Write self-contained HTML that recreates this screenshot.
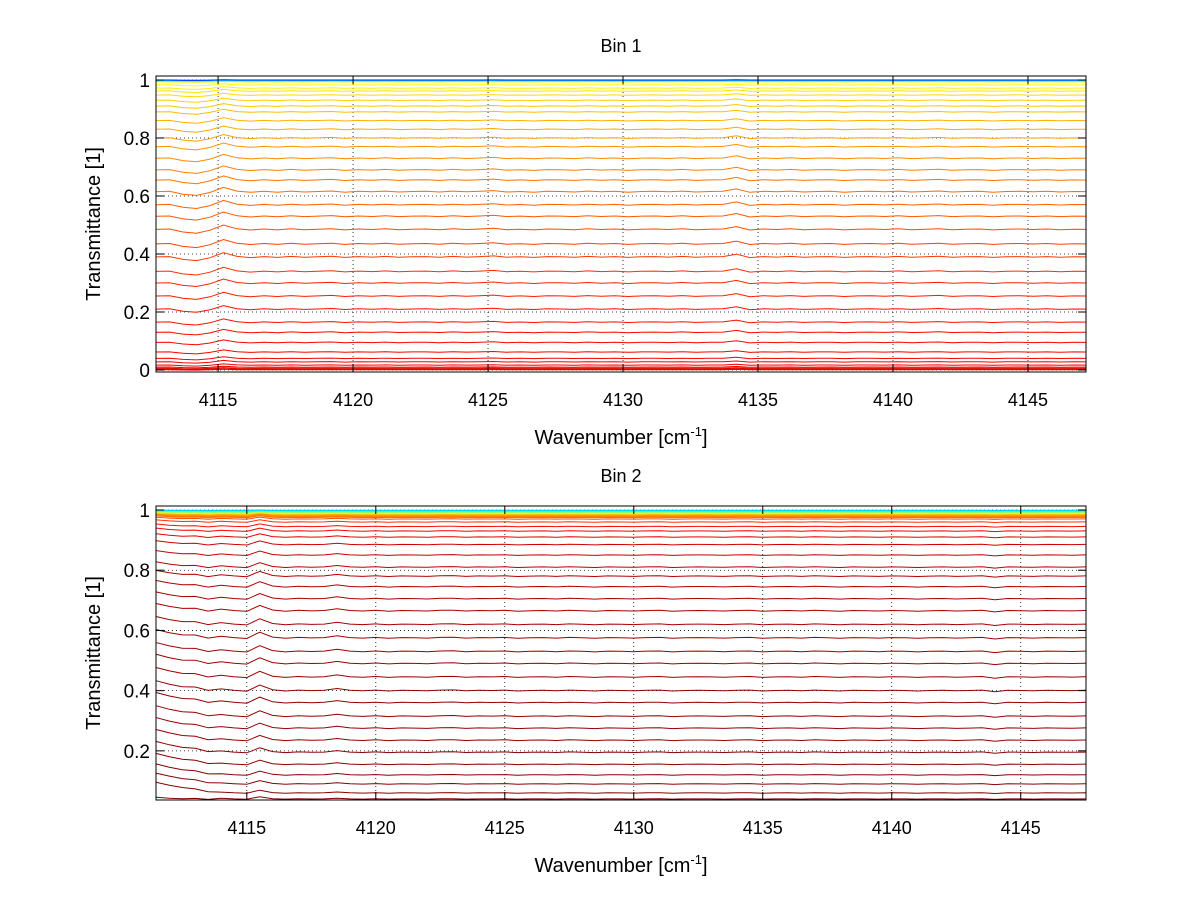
<!DOCTYPE html>
<html><head><meta charset="utf-8">
<style>
body{margin:0;background:#fff;font-family:"Liberation Sans",sans-serif;}
svg text{font-family:"Liberation Sans",sans-serif;fill:#000;}
</style></head>
<body>
<svg id="fig" width="1200" height="901" viewBox="0 0 1200 901" xmlns="http://www.w3.org/2000/svg">
<rect width="1200" height="901" fill="#fff"/>
<g id="p1"></g>
<g id="p2"></g>
</svg>
<script>
// ---- data ----
const xTicks = [4115,4120,4125,4130,4135,4140,4145];
const yTicks1 = [0,0.2,0.4,0.6,0.8,1];
const yTicks2 = [0.2,0.4,0.6,0.8,1];
const gridStart1 = 4112.7, gridStep = 0.5;
const gridStart2 = 4111.5;
const shape1 = [0,0.2,-1.5,-2.2,-0.5,2.5,0.3,-0.4,0.2,-0.3,0.3,-0.2,0.1,0.4,-0.3,0.2,-0.1,0.3,-0.2,0.1,
 0.2,-0.2,0.3,-0.1,0.2,0.6,-0.2,0.1,-0.3,0.2,0.1,-0.2,0.3,-0.1,0.2,-0.3,0.1,0.2,-0.1,0.3,
 -0.2,0.1,0.2,1.6,-0.4,0.2,-0.1,0.3,-0.2,0.1,0.2,-0.3,0.1,0.2,-0.1,0.3,-0.2,0.1,0.4,-0.2,
 0.1,0.2,-0.3,0.1,0.2,-0.1,0.2,-0.2,0.1,0];
const shape2 = [2.5,1.2,0.4,0.8,-0.5,1.0,0.2,-0.3,3.2,0.5,-0.2,0.3,0.0,0.2,1.2,0.2,-0.1,0.3,-0.2,0.2,
 0.1,-0.1,0.3,0.4,-0.1,0.2,0.1,0.3,-0.2,0.1,0.2,-0.1,0.3,0.1,-0.2,0.2,0.1,-0.1,0.2,0.3,
 -0.2,0.1,0.2,0.1,-0.1,0.2,0.3,-0.2,0.1,0.2,-0.1,0.3,0.1,-0.2,0.2,0.1,-0.1,0.2,0.1,-0.2,
 0.1,0.2,-0.1,0.1,0.3,-0.6,0.2,0.1,-0.1,0.2,0.1,0.0,0.2,-0.1];
const levels1 = [1.0,0.999,0.998,0.997,0.996,0.995,0.993,0.983,0.972,0.962,0.948,0.93,0.91,0.89,0.86,0.83,0.80,0.77,0.73,0.69,
 0.655,0.615,0.57,0.53,0.485,0.435,0.39,0.34,0.30,0.255,0.21,0.165,0.13,0.095,0.062,0.04,0.028,0.017,0.01,0.006,0.003,0.001];
const levels2 = [0.999,0.997,0.995,0.993,0.991,0.989,0.987,0.985,0.983,0.981,0.979,0.977,0.975,0.97,0.96,0.945,0.93,0.91,0.885,0.85,
 0.81,0.78,0.745,0.705,0.665,0.62,0.575,0.53,0.49,0.445,0.40,0.36,0.315,0.275,0.235,0.195,0.155,0.12,0.09,0.06,0.04];
const cmap1 = [0.15,0.3,0.38,0.45,0.52,0.57,0.6,0.62,0.64,0.65,0.66,0.67,0.68,0.69,0.7,0.71,0.72,0.73,0.74,0.75,
 0.76,0.77,0.78,0.79,0.8,0.81,0.82,0.83,0.84,0.85,0.86,0.86,0.87,0.87,0.88,0.88,0.89,0.89,0.9,0.9,0.9,0.9];
const cmap2 = [0.32,0.38,0.44,0.5,0.56,0.62,0.66,0.7,0.72,0.74,0.75,0.76,0.77,0.8,0.83,0.86,0.88,0.9,0.92,0.93,
 0.94,0.95,0.95,0.96,0.96,0.96,0.97,0.97,0.97,0.97,0.98,0.98,0.98,0.98,0.98,0.99,0.99,0.99,0.99,0.99,1.0];

function jet(t){
  const c=v=>Math.round(255*Math.max(0,Math.min(1,v)));
  return `rgb(${c(1.5-Math.abs(4*t-3))},${c(1.5-Math.abs(4*t-2))},${c(1.5-Math.abs(4*t-1))})`;
}
const NS="http://www.w3.org/2000/svg";
function mk(tag,attrs,parent){const e=document.createElementNS(NS,tag);for(const k in attrs)e.setAttribute(k,attrs[k]);parent.appendChild(e);return e;}

function drawPanel(g, box, xd, yd, yTicks, levels, cmap, shape, gStart, amp, title, tiltLeft){
  const sx=v=>box.x+(v-xd[0])/(xd[1]-xd[0])*box.w;
  const sy=v=>box.y+box.h-(v-yd[0])/(yd[1]-yd[0])*box.h;
  const clip=mk('clipPath',{id:'c'+title.replace(' ','')},g);
  mk('rect',{x:box.x,y:box.y,width:box.w,height:box.h},clip);
  xTicks.forEach(t=>{const l=mk('line',{x1:sx(t),x2:sx(t),y1:box.y,y2:box.y+box.h,stroke:'#000','stroke-width':0.8,'stroke-dasharray':'1,3'},g);
    
    });
  yTicks.forEach(t=>{const l=mk('line',{x1:box.x,x2:box.x+box.w,y1:sy(t),y2:sy(t),stroke:'#000','stroke-width':0.8,'stroke-dasharray':'1,3'},g);
    
    });
  const cg=mk('g',{'clip-path':`url(#c${title.replace(' ','')})`},g);
  for(let k=levels.length-1;k>=0;k--){
    const L=levels[k];
    const a=amp*Math.max(0.05,Math.sqrt(L*(1-L)))*(L>0.99?0.6:1);
    let pts=[];
    shape.forEach((s,i)=>{
      const x=gStart+i*gridStep;
      let v=L+s*a;
      if(tiltLeft){const d=Math.max(0,4114-x);v+=d*0.012*(1-L)*(L>0.05?1:0);}
      pts.push(sx(x).toFixed(1)+','+sy(v).toFixed(1));
    });
    const p=mk('polyline',{points:pts.join(' '),fill:'none',stroke:jet(cmap[k]),'stroke-width':1},cg);
    
    
  }
  const fr=mk('rect',{x:box.x,y:box.y,width:box.w,height:box.h,fill:'none',stroke:'#000','stroke-width':1},g);
  
  
  xTicks.forEach(t=>{
    mk('line',{x1:sx(t),x2:sx(t),y1:box.y+box.h,y2:box.y+box.h-8,stroke:'#000'},g);
    mk('line',{x1:sx(t),x2:sx(t),y1:box.y,y2:box.y+8,stroke:'#000'},g);
    const tx=mk('text',{x:sx(t),y:box.y+box.h+34,'font-size':18,'text-anchor':'middle'},g);tx.textContent=t;
    
    
  });
  yTicks.forEach(t=>{
    mk('line',{x1:box.x,x2:box.x+8,y1:sy(t),y2:sy(t),stroke:'#000'},g);
    mk('line',{x1:box.x+box.w,x2:box.x+box.w-8,y1:sy(t),y2:sy(t),stroke:'#000'},g);
    const tx=mk('text',{x:box.x-6,y:sy(t)+7,'font-size':19,'text-anchor':'end'},g);tx.textContent=String(t);
    
    
  });
  const ti=mk('text',{x:box.x+box.w/2,y:box.y-24,'font-size':18,'text-anchor':'middle'},g);ti.textContent=title;
  
  
  const xl=mk('text',{x:box.x+box.w/2,y:box.y+box.h+72,'font-size':20,'text-anchor':'middle'},g);
  xl.innerHTML='Wavenumber [cm<tspan dy="-8" font-size="13">-1</tspan><tspan dy="8">]</tspan>';
  
  
  const yl=mk('text',{x:0,y:0,'font-size':20,'text-anchor':'middle',transform:`translate(${box.x-56},${box.y+box.h/2}) rotate(-90)`},g);
  yl.textContent='Transmittance [1]';
  
  
}
drawPanel(document.getElementById('p1'),{x:156,y:76,w:930,h:296},[4112.7,4147.15],[-0.0069,1.0138],yTicks1,levels1,cmap1,shape1,gridStart1,0.012,'Bin 1',false);
drawPanel(document.getElementById('p2'),{x:156,y:506,w:930,h:294},[4111.48,4147.53],[0.0367,1.0133],yTicks2,levels2,cmap2,shape2,gridStart2,0.012,'Bin 2',true);
</script>
</body></html>
